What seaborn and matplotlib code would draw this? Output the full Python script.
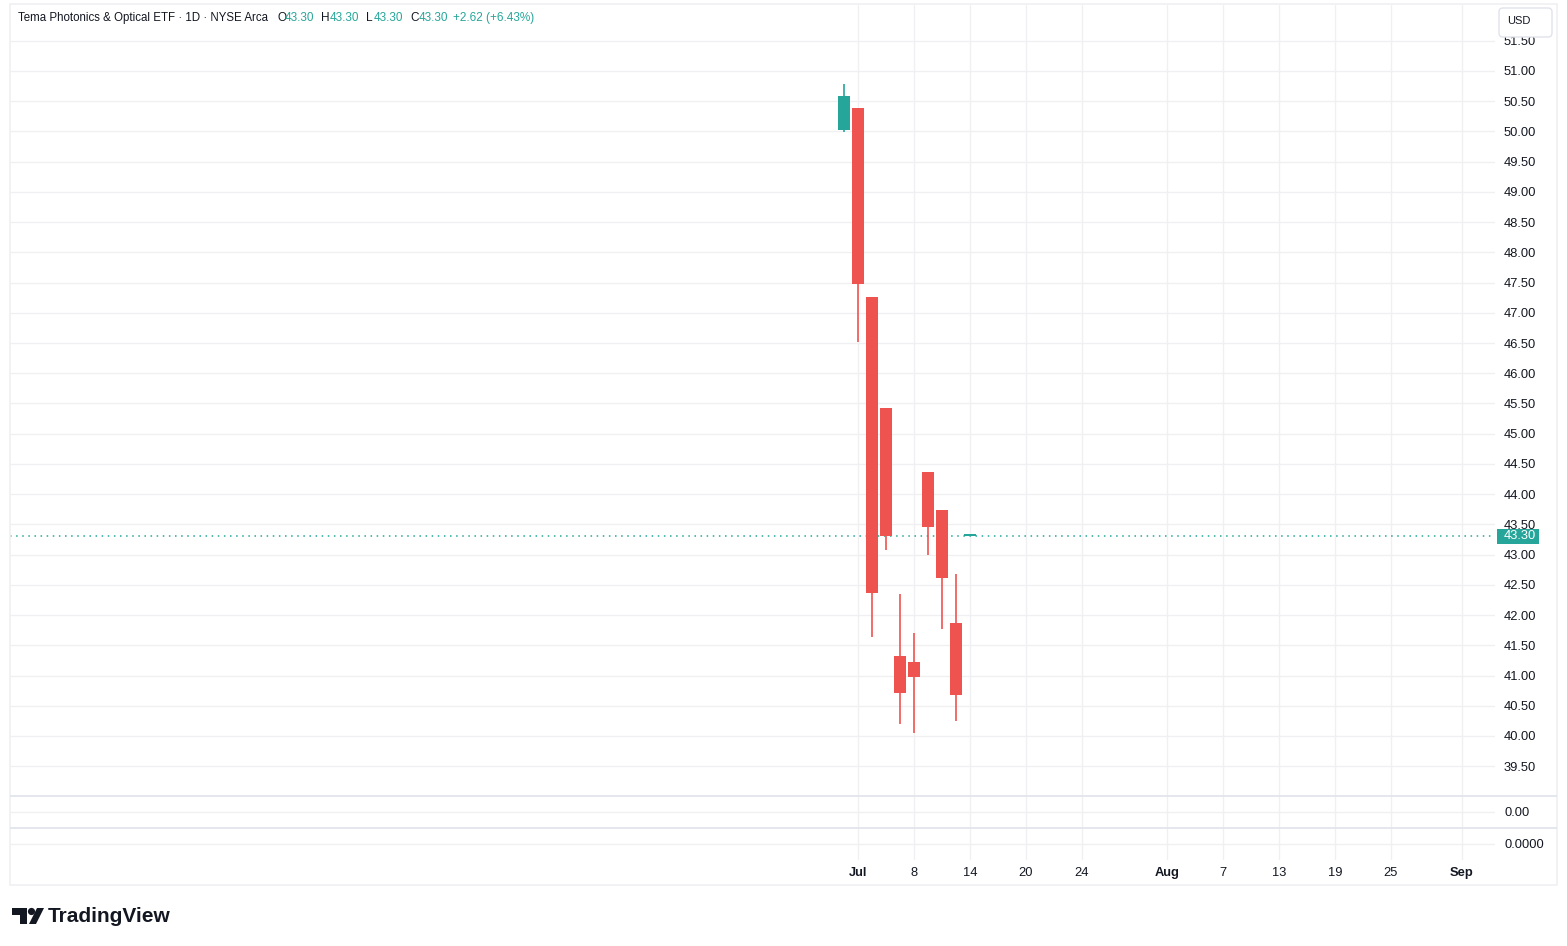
import matplotlib
matplotlib.use("Agg")
import matplotlib.pyplot as plt
from matplotlib import patches, transforms
import numpy as np
import pandas as pd
import seaborn as sns

# daily bars (2025)
dates = ["Jun 30", "Jul 1", "Jul 2", "Jul 3", "Jul 7", "Jul 8", "Jul 9", "Jul 10", "Jul 11", "Jul 14"]
opens = [50.02, 50.39, 47.26, 45.43, 41.32, 41.22, 44.37, 43.74, 41.87, 43.30]
highs = [50.79, 50.39, 47.26, 45.43, 42.35, 41.70, 44.37, 43.74, 42.68, 43.30]
lows = [49.99, 46.51, 41.63, 43.08, 40.20, 40.05, 43.00, 41.77, 40.25, 43.30]
closes = [50.59, 47.48, 42.37, 43.30, 40.71, 40.98, 43.45, 42.62, 40.68, 43.30]
last_price = 43.30

# time scale labels (bar index, Jun 30 = 0; future part spaced by TradingView)
time_labels = ["Jul", "8", "14", "20", "24", "Aug", "7", "13", "19", "25", "Sep"]
time_label_bars = [1, 5, 9, 13, 17, 23.07, 27.07, 31.07, 35.07, 39.07, 44.14]
month_labels = ["Jul", "Aug", "Sep"]

price_ticks = np.arange(39.5, 52.0, 0.5)

header_title = "Tema Photonics & Optical ETF \u00b7 1D \u00b7 NYSE Arca"
header_ohlc = [("O", "43.30"), ("H", "43.30"), ("L", "43.30"), ("C", "43.30")]
header_change = "+2.62 (+6.43%)"

UP = "#26a69a"
DOWN = "#ef5350"
GRID = "#f0f0f2"
SEP = "#e0e3eb"
TEXT = "#131722"

W, H = 1567, 946
PX_PER_BAR = 14.0
PX_PER_UNIT = 60.45

sns.set_theme(style="white")
plt.rcParams["font.family"] = ["Liberation Sans", "DejaVu Sans"]


def box(x0, y0, x1, y1):
    """pixel rectangle (top-left origin) -> figure fraction"""
    return [x0 / W, 1 - y1 / H, (x1 - x0) / W, (y1 - y0) / H]


df = pd.DataFrame({"date": dates, "open": opens, "high": highs, "low": lows, "close": closes})
df["bar"] = np.arange(len(df))
df["up"] = df["close"] >= df["open"]
df["color"] = np.where(df["up"], UP, DOWN)
df["body_lo"] = df[["open", "close"]].min(axis=1)
df["body_h"] = (df["open"] - df["close"]).abs().clip(lower=0.035)

fig = plt.figure(figsize=(W / 100, H / 100), dpi=100)
fig.patch.set_facecolor("white")

ax = fig.add_axes(box(10, 5, 1495, 797))
ax2 = fig.add_axes(box(10, 796, 1495, 827), sharex=ax)
ax3 = fig.add_axes(box(10, 827, 1495, 860), sharex=ax)

# main pane
ax.vlines(df["bar"], df["low"], df["high"], colors=df["color"], lw=1.2, zorder=3)
ax.bar(df["bar"], df["body_h"], bottom=df["body_lo"], width=0.79, color=df["color"],
       linewidth=0, zorder=4)
ax.axhline(last_price, color=UP, lw=1.1, ls=(0, (1, 3)), zorder=2)

x_left = (10 - 844) / PX_PER_BAR
x_right = (1495 - 844) / PX_PER_BAR
ax.set_xlim(x_left, x_right)
ax.set_ylim(51 - (797 - 71) / PX_PER_UNIT, 51 + (71 - 5) / PX_PER_UNIT)
ax.set_yticks(price_ticks)
ax.set_yticklabels([f"{v:.2f}" for v in price_ticks])

for a in (ax, ax2, ax3):
    a.set_xticks(time_label_bars)
    a.grid(True, color=GRID, lw=1)
    a.set_axisbelow(True)
    for s in a.spines.values():
        s.set_visible(False)
    a.yaxis.tick_right()
    a.tick_params(axis="y", length=0, pad=6.5, labelsize=9.3, labelcolor=TEXT)
    a.tick_params(axis="x", length=0)
    a.set_facecolor("none")

ax.tick_params(axis="x", labelbottom=False)
ax2.tick_params(axis="x", labelbottom=False)

for a, lab in ((ax2, "0.00"), (ax3, "0.0000")):
    a.set_ylim(-1, 1)
    a.set_yticks([0])
    a.set_yticklabels([lab])

ax3.set_xticklabels(time_labels)
ax3.tick_params(axis="x", pad=5, labelsize=9.3, labelcolor=TEXT)
for t in ax3.get_xticklabels():
    if t.get_text() in month_labels:
        t.set_fontweight("bold")

# last price marker on the price scale
trans = transforms.blended_transform_factory(fig.transFigure, ax.transData)
h = 15 / PX_PER_UNIT
ax.add_patch(patches.Rectangle((1497 / W, last_price - h / 2), 42 / W, h, transform=trans,
                               facecolor=UP, edgecolor="none", clip_on=False, zorder=6))
ax.text(1504 / W, last_price, f"{last_price:.2f}", transform=trans, color="white",
        fontsize=9.3, va="center", ha="left", zorder=7, clip_on=False)

# overlay for decorations in pixel coordinates
ov = fig.add_axes([0, 0, 1, 1], zorder=10)
ov.set_xlim(0, W)
ov.set_ylim(H, 0)
ov.axis("off")
ov.patch.set_alpha(0)

ov.add_patch(patches.Rectangle((10, 4), 1547, 881, fill=False, edgecolor=GRID, lw=1.2))
ov.hlines([796, 827.5], 10, 1557, color=SEP, lw=1.2)

# header
ov.text(18, 18, header_title, fontsize=8.3, color=TEXT, va="center", ha="left")
x = 277
for key, val in header_ohlc:
    ov.text(x, 18, key, fontsize=8.5, color=TEXT, va="center", ha="left")
    ov.text(x + 8, 18, val, fontsize=8.5, color=UP, va="center", ha="left")
    x += 44.5
ov.text(453, 18, header_change, fontsize=8.5, color=UP, va="center", ha="left")

# currency box (covers the top of the 51.50 label, as in the screenshot)
ov.add_patch(patches.FancyBboxPatch((1499, 8), 53, 29,
                                    boxstyle="round,pad=0,rounding_size=4",
                                    facecolor="white", edgecolor=SEP, lw=1))
ov.text(1519, 21.5, "USD", fontsize=8, color=TEXT, va="center", ha="center")

# TradingView logo
ov.add_patch(patches.Polygon([(12, 908), (27, 908), (27, 924), (20, 924), (20, 915), (12, 915)],
                             closed=True, facecolor="#131722", edgecolor="none"))
ov.add_patch(patches.Circle((31.5, 911.5), 3.6, facecolor="#131722", edgecolor="none"))
ov.add_patch(patches.Polygon([(37, 908), (44, 908), (36, 924), (29, 924)],
                             closed=True, facecolor="#131722", edgecolor="none"))
ov.text(48, 916, "TradingView", fontsize=15, fontweight="bold", color="#131722",
        va="center", ha="left")

fig.savefig("out.png", dpi=100, facecolor="white")
